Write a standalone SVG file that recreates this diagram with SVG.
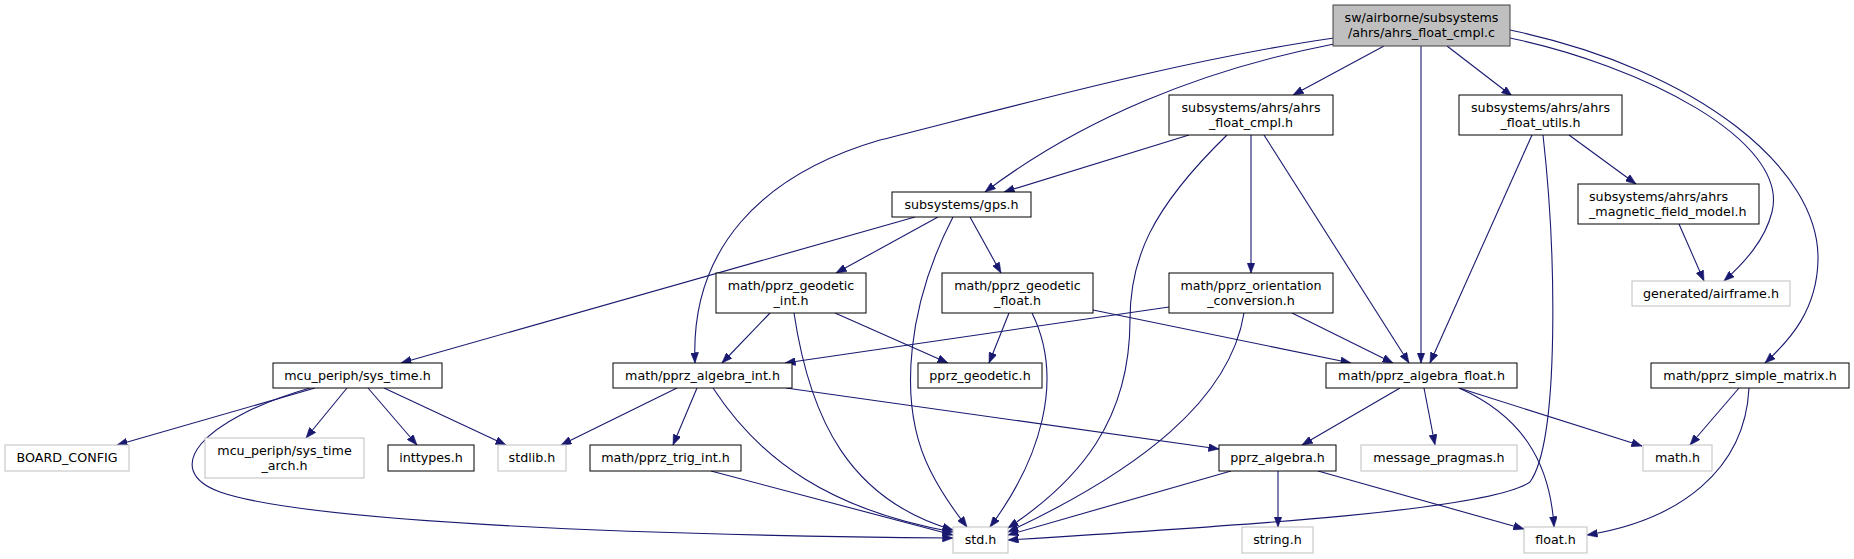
<svg xmlns="http://www.w3.org/2000/svg" width="1854" height="559" viewBox="0 0 1854 559">
<defs>
<style>
.n rect{fill:#fff;stroke:#000;stroke-width:1}
.g rect{fill:#fff;stroke:#bfbfbf;stroke-width:1}
.s rect{fill:#bfbfbf;stroke:#404040;stroke-width:1}
text{font-family:"DejaVu Sans","Liberation Sans",sans-serif;font-size:12.7px;fill:#000;text-anchor:middle}
.l text{text-anchor:start}
#edges path{fill:none;stroke:#191970;stroke-width:1.1;marker-end:url(#ah)}
</style>
<marker id="ah" markerUnits="userSpaceOnUse" markerWidth="11" markerHeight="8" refX="10.5" refY="4" orient="auto">
<path d="M0,0 L10.5,4 L0,8 z" fill="#191970" stroke="#191970" stroke-width="0.5"/>
</marker>
</defs>
<rect width="1854" height="559" fill="#fff"/>
<g id="edges">
<path d="M1384,46 L1293,95"/>
<path d="M1447,46 L1512,96"/>
<path d="M1421,46 L1421,363"/>
<path d="M1334,44 C1200,70 1080,120 985,192"/>
<path d="M1334,38 C1180,60 1000,110 880,140 C760,175 690,250 695,363"/>
<path d="M1510,38 C1640,65 1790,140 1772,212 C1765,240 1745,262 1724,281"/>
<path d="M1510,30 C1700,70 1820,170 1818,260 C1817,310 1790,340 1765,363"/>
<path d="M1189,135 L1004,192"/>
<path d="M1251,135 L1251,273"/>
<path d="M1264,135 L1409,363"/>
<path d="M1227,135 C1150,210 1130,260 1130,320 C1130,420 1080,480 1008,528"/>
<path d="M1569,135 L1636,184"/>
<path d="M1532,135 L1430,363"/>
<path d="M1543,135 C1556,250 1560,440 1530,482 C1490,510 1250,525 1008,540"/>
<path d="M1679,224 L1704,281"/>
<path d="M915,217 L401,363"/>
<path d="M938,217 L836,273"/>
<path d="M953,217 C910,300 895,400 930,470 C945,500 958,515 967,527"/>
<path d="M970,217 L1001,273"/>
<path d="M770,313 L722,363"/>
<path d="M794,313 C810,420 850,500 953,530"/>
<path d="M835,313 L948,363"/>
<path d="M1009,313 L989,363"/>
<path d="M1032,313 C1065,380 1040,460 990,527"/>
<path d="M1093,310 L1351,363"/>
<path d="M1169,307 L785,363"/>
<path d="M1292,313 L1393,363"/>
<path d="M1244,313 C1230,400 1140,470 1008,532"/>
<path d="M315,388 L117,445"/>
<path d="M310,388 C200,420 160,470 220,492 C300,520 600,535 953,538"/>
<path d="M347,388 L306,438"/>
<path d="M368,388 L417,445"/>
<path d="M384,388 L506,445"/>
<path d="M677,388 L561,445"/>
<path d="M697,388 L673,445"/>
<path d="M713,388 C760,460 830,510 953,532"/>
<path d="M786,388 L1219,449"/>
<path d="M711,471 L953,535"/>
<path d="M1400,388 L1302,445"/>
<path d="M1424,388 L1435,445"/>
<path d="M1459,388 L1642,446"/>
<path d="M1459,388 C1520,415 1550,460 1554,527"/>
<path d="M1739,388 L1690,445"/>
<path d="M1749,388 C1745,470 1680,520 1587,535"/>
<path d="M1278,471 L1278,527"/>
<path d="M1318,471 L1524,529"/>
<path d="M1231,471 L1008,535"/>
</g>
<g id="src" class="s"><rect x="1333" y="5" width="177" height="41"/><text x="1421.5" y="21.7">sw/airborne/subsystems</text><text x="1421.5" y="36.5">/ahrs/ahrs_float_cmpl.c</text></g>
<g id="afc_h" class="n"><rect x="1169" y="95" width="164" height="40"/><text x="1251" y="111.7">subsystems/ahrs/ahrs</text><text x="1251" y="126.5">_float_cmpl.h</text></g>
<g id="afu_h" class="n"><rect x="1459" y="95" width="163" height="40"/><text x="1540.5" y="111.7">subsystems/ahrs/ahrs</text><text x="1540.5" y="126.5">_float_utils.h</text></g>
<g id="amf" class="n l"><rect x="1578" y="184" width="181" height="40"/><text x="1589" y="200.7">subsystems/ahrs/ahrs</text><text x="1589" y="215.5">_magnetic_field_model.h</text></g>
<g id="gps" class="n"><rect x="892" y="192" width="139" height="25"/><text x="961.5" y="208.5">subsystems/gps.h</text></g>
<g id="airframe" class="g"><rect x="1632" y="281" width="158" height="25"/><text x="1711" y="297.5">generated/airframe.h</text></g>
<g id="geo_int" class="n"><rect x="716" y="273" width="150" height="40"/><text x="791" y="289.7">math/pprz_geodetic</text><text x="791" y="304.5">_int.h</text></g>
<g id="geo_float" class="n"><rect x="942" y="273" width="151" height="40"/><text x="1017.5" y="289.7">math/pprz_geodetic</text><text x="1017.5" y="304.5">_float.h</text></g>
<g id="orient" class="n"><rect x="1169" y="273" width="164" height="40"/><text x="1251" y="289.7">math/pprz_orientation</text><text x="1251" y="304.5">_conversion.h</text></g>
<g id="systime" class="n"><rect x="273" y="363" width="169" height="25"/><text x="357.5" y="379.5">mcu_periph/sys_time.h</text></g>
<g id="alg_int" class="n"><rect x="613" y="363" width="179" height="25"/><text x="702.5" y="379.5">math/pprz_algebra_int.h</text></g>
<g id="geodetic" class="n"><rect x="918" y="363" width="124" height="25"/><text x="980" y="379.5">pprz_geodetic.h</text></g>
<g id="alg_float" class="n"><rect x="1326" y="363" width="191" height="25"/><text x="1421.5" y="379.5">math/pprz_algebra_float.h</text></g>
<g id="simple_matrix" class="n"><rect x="1651" y="363" width="198" height="25"/><text x="1750" y="379.5">math/pprz_simple_matrix.h</text></g>
<g id="board" class="g"><rect x="5" y="445" width="124" height="26"/><text x="67" y="461.5">BOARD_CONFIG</text></g>
<g id="arch" class="g"><rect x="205" y="438" width="159" height="40"/><text x="284.5" y="454.7">mcu_periph/sys_time</text><text x="284.5" y="469.5">_arch.h</text></g>
<g id="inttypes" class="n"><rect x="388" y="445" width="86" height="26"/><text x="431" y="461.5">inttypes.h</text></g>
<g id="stdlib" class="g"><rect x="498" y="445" width="68" height="26"/><text x="532" y="461.5">stdlib.h</text></g>
<g id="trig" class="n"><rect x="590" y="445" width="151" height="26"/><text x="665.5" y="461.5">math/pprz_trig_int.h</text></g>
<g id="alg" class="n"><rect x="1219" y="445" width="117" height="26"/><text x="1277.5" y="461.5">pprz_algebra.h</text></g>
<g id="msg" class="g"><rect x="1361" y="445" width="156" height="26"/><text x="1439" y="461.5">message_pragmas.h</text></g>
<g id="math" class="g"><rect x="1643" y="445" width="69" height="26"/><text x="1677.5" y="461.5">math.h</text></g>
<g id="std" class="g"><rect x="953" y="527" width="55" height="26"/><text x="980.5" y="543.5">std.h</text></g>
<g id="string" class="g"><rect x="1242" y="527" width="71" height="26"/><text x="1277.5" y="543.5">string.h</text></g>
<g id="float" class="g"><rect x="1524" y="527" width="63" height="26"/><text x="1555.5" y="543.5">float.h</text></g>
</svg>
